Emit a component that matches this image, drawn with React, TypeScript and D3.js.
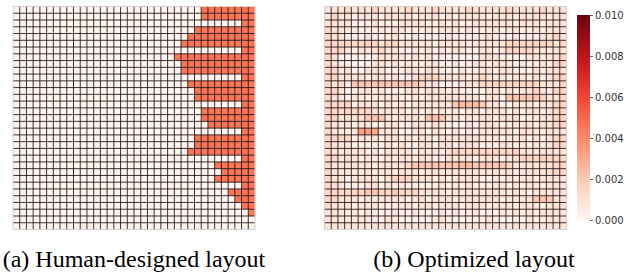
import React, { useEffect, useRef } from 'react';
import * as d3 from 'd3';

const NROWS = 33;
const NCOLS = 36;

// human layout: first red column per row, 'strip' rows only have the last two columns
const humanStart = [28, 28, 34, 27, 26, 25, 34, 24, 25, 25, 34, 26, 27, 27, 34, 28, 28, 29, 34, 27, 27, 26, 34, 30, 31, 30, 34, 32, 33, 34, 35, 36, 36];
const humanValue = 0.0046;

// optimized layout, one digit per cell, digit -> value through levels
const levels = [0, 0.0003, 0.0009, 0.0015, 0.002, 0.0024, 0.003, 0.0034];
const optimizedRows = [
    '222322 232222 322232 222322 222322 223222',
    '232212 221222 212221 212222 122212 222122',
    '222211 121112 222112 121122 222212 221222',
    '322121 112122 111212 221211 121221 121222',
    '322111 211121 121111 211112 211121 112232',
    '333333 332332 222212 222122 222333 333323',
    '333212 223221 121212 122112 212333 322122',
    '321110 012222 121211 000002 221111 221223',
    '322100 122121 211221 120122 122212 112133',
    '332211 222111 221221 112112 212211 121222',
    '332222 122121 123332 222123 222122 121233',
    '323144 444444 443221 112223 333333 332223',
    '332112 212111 221222 121111 221212 232133',
    '322121 112221 121222 222221 221444 443223',
    '333312 221212 122222 245554 221122 212233',
    '333333 322222 121212 121221 222121 221233',
    '332222 444212 221444 221212 212221 112233',
    '322212 201221 122122 000212 221222 212233',
    '322127 762221 122122 121212 222212 221222',
    '333312 221221 212212 222222 121212 121233',
    '322211 101212 102212 212221 112212 121233',
    '322222 121222 212221 233333 333332 222222',
    '332221 211212 212211 222212 221223 333333',
    '322222 212222 344444 445544 444322 222233',
    '322221 212212 221222 222222 222212 222233',
    '322122 221233 322212 122221 121212 212222',
    '322111 221212 111112 121211 122121 221222',
    '333333 443343 332222 122222 222222 122222',
    '332221 212222 122122 212222 221222 244422',
    '322212 221112 212212 221222 122212 221222',
    '222121 211121 121112 121121 112121 212222',
    '222112 211211 111112 111111 211111 211222',
    '222222 222222 222222 222222 222222 222222',
];

const colorTicks = [0, 0.002, 0.004, 0.006, 0.008, 0.01];
const captions = ['(a) Human-designed layout', '(b) Optimized layout'];

export default function App() {
    const ref = useRef<SVGSVGElement | null>(null);

    useEffect(() => {
        if (!ref.current) return;
        const svg = d3.select(ref.current);
        svg.selectAll('*').remove();

        const color = d3.scaleSequential(d3.interpolateReds).domain([0, 0.01]);

        const humanGrid = d3.range(NROWS).map(r =>
            d3.range(NCOLS).map(c => {
                const s = humanStart[r];
                const strip = s === 34 && r % 4 === 2;
                if (strip) return c >= 34 ? humanValue : 0;
                return c >= s ? humanValue : 0;
            })
        );
        const optGrid = optimizedRows.map(row =>
            row.replace(/ /g, '').split('').map(ch => levels[+ch])
        );

        const drawHeat = (grid: number[][], x0: number) => {
            const top = 6.5, w = 242, h = 223;
            const x = d3.scaleBand<number>().domain(d3.range(NCOLS)).range([x0, x0 + w]);
            const y = d3.scaleBand<number>().domain(d3.range(NROWS)).range([top, top + h]);
            const g = svg.append('g');
            grid.forEach((row, r) => {
                g.selectAll(null)
                    .data(row)
                    .enter()
                    .append('rect')
                    .attr('x', (_, c) => x(c)!)
                    .attr('y', y(r)!)
                    .attr('width', x.bandwidth() + 0.3)
                    .attr('height', y.bandwidth() + 0.3)
                    .attr('fill', d => color(d));
            });
            // cell borders
            g.selectAll('.vl')
                .data(d3.range(1, NCOLS))
                .enter().append('line')
                .attr('x1', c => x(c)!).attr('x2', c => x(c)!)
                .attr('y1', top).attr('y2', top + h)
                .attr('stroke', '#1e0e0e').attr('stroke-opacity', 0.85).attr('stroke-width', 1);
            g.selectAll('.hl')
                .data(d3.range(1, NROWS))
                .enter().append('line')
                .attr('y1', r => y(r)!).attr('y2', r => y(r)!)
                .attr('x1', x0).attr('x2', x0 + w)
                .attr('stroke', '#1e0e0e').attr('stroke-opacity', 0.85).attr('stroke-width', 1);
            g.append('rect')
                .attr('x', x0).attr('y', top).attr('width', w).attr('height', h)
                .attr('fill', 'none').attr('stroke', '#d8d0ce').attr('stroke-width', 1);
        };

        drawHeat(humanGrid, 13);
        drawHeat(optGrid, 324.5);

        // colorbar
        const cbX = 577, cbW = 13, cbTop = 15, cbBot = 220;
        const cy = d3.scaleLinear().domain([0, 0.01]).range([cbBot, cbTop]);
        const defs = svg.append('defs');
        const grad = defs.append('linearGradient').attr('id', 'cbar')
            .attr('x1', 0).attr('y1', 1).attr('x2', 0).attr('y2', 0);
        d3.range(0, 1.0001, 0.1).forEach(t => {
            grad.append('stop').attr('offset', t).attr('stop-color', d3.interpolateReds(t));
        });
        svg.append('rect')
            .attr('x', cbX).attr('y', cbTop).attr('width', cbW).attr('height', cbBot - cbTop)
            .attr('fill', 'url(#cbar)');
        const axis = svg.append('g')
            .attr('transform', `translate(${cbX + cbW},0)`)
            .call(d3.axisRight(cy).tickValues(colorTicks).tickFormat(d3.format('.3f')).tickSize(3).tickPadding(2));
        axis.select('.domain').remove();
        axis.selectAll('line').attr('stroke', '#444').attr('stroke-width', 0.8);
        axis.selectAll('text')
            .attr('font-family', 'DejaVu Sans')
            .attr('font-size', 10)
            .attr('fill', '#333');

        // captions
        svg.selectAll('.cap')
            .data(captions)
            .enter().append('text')
            .attr('x', (_, i) => (i === 0 ? 134 : 474))
            .attr('y', 267)
            .attr('text-anchor', 'middle')
            .style('font-family', "'Liberation Serif', 'Times New Roman', Times, serif")
            .attr('font-size', 24)
            .attr('fill', '#000')
            .text(d => d);
    }, []);

    return (
        <svg ref={ref} width={634} height={274}
            style={{ position: 'absolute', left: 0, top: 0, background: '#fff' }} />
    );
}
